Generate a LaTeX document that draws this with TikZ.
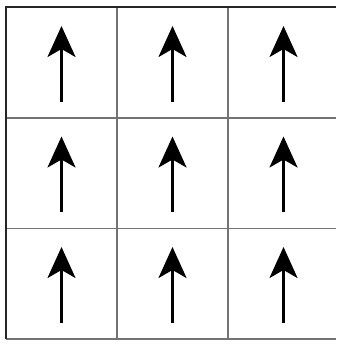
\documentclass[tikz,border=0pt]{standalone}
\usetikzlibrary{arrows.meta}

\begin{document}
\begin{tikzpicture}[x=1pt,y=1pt,line cap=butt,
  gridline/.style={line width=1.4pt,draw=black!55},
  edgeline/.style={line width=2pt,draw=black!85},
  spin/.style={line width=2.8pt,-{Stealth[length=31pt,width=28pt,inset=8pt]}}]

\useasboundingbox (0,0) rectangle (336,344);

% Cell borders.
\foreach \xx in {117,228}
  \draw[gridline] (\xx,5) -- (\xx,337);
\foreach \yy in {5,115.5,226}
  \draw[gridline] (6,\yy) -- (336,\yy);
\draw[edgeline] (6,4.5) -- (6,337) -- (336,337);

% One up arrow per cell.
\foreach \col in {0,1,2}
  \foreach \row in {0,1,2}
  {
    \coordinate (tail-\col-\row) at (61.5+\col*111,242-\row*110.5);
    \coordinate (tip-\col-\row) at (61.5+\col*111,318-\row*110.5);
    \draw[spin] (tail-\col-\row) -- (tip-\col-\row);
  }

\end{tikzpicture}
\end{document}
